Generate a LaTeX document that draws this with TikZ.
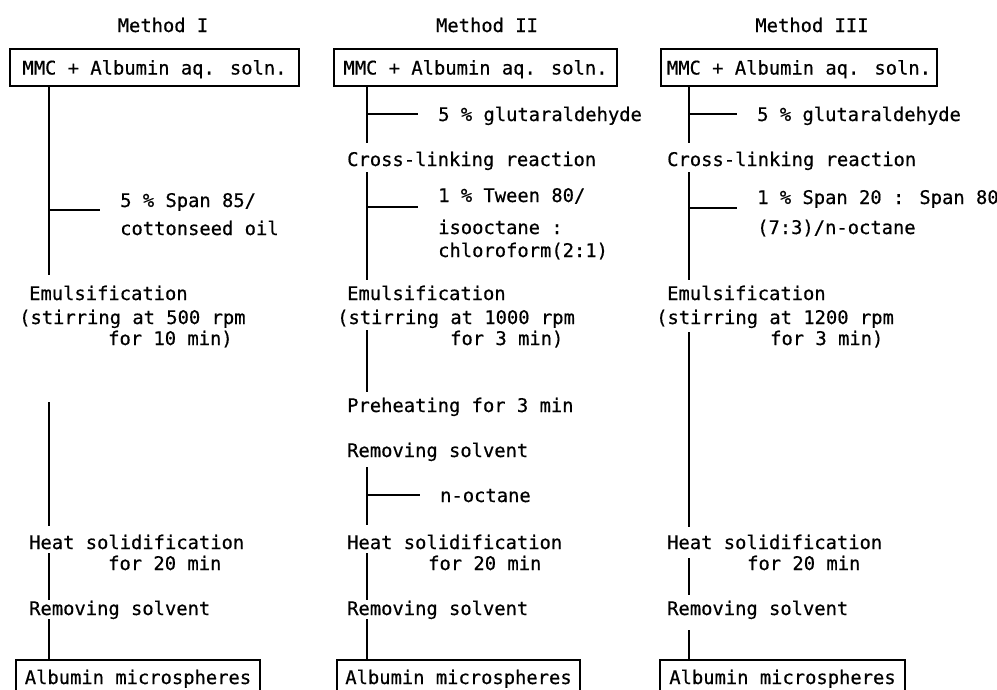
\documentclass[tikz,border=0pt]{standalone}
\usepackage{fontspec}
\setmainfont[FakeBold=0.5]{DejaVu Sans Mono}
\begin{document}
\begin{tikzpicture}[x=1pt,y=-1pt,font=\fontsize{18.8}{23}\selectfont,
    lbl/.style={anchor=base west,inner sep=0,text height=14pt,text depth=4pt},
    head/.style={anchor=base,inner sep=0},
    stepbox/.style={draw,line width=1.2,inner sep=0,text height=14pt,text depth=0pt},
    trunk/.style={line width=1.6},
    feed/.style={line width=1.4,shorten >=20pt}]
      \useasboundingbox (0,0) rectangle (997,689);
      \clip (0,0) rectangle (997,689);

      % Method I
      \node[head] (h1) at (163,32) {Method I};
      \node[stepbox,minimum width=289,minimum height=37] (top1) at (154.5,67.5) {MMC + Albumin aq. soln.};
      \node[lbl] (sp1a) at (120,207) {5 \% Span 85/};
      \node[lbl] (sp1b) at (120,235) {cottonseed oil};
      \node[lbl] (em1) at (29,300) {Emulsification};
      \node[lbl] (st1) at (19,324) {(stirring at 500 rpm};
      \node[lbl] (fo1) at (108,345) {for 10 min)};
      \node[lbl] (he1) at (29,549) {Heat solidification};
      \node[lbl] (ft1) at (108,570) {for 20 min};
      \node[lbl] (re1) at (29,615) {Removing solvent};
      \node[stepbox,minimum width=244,minimum height=34] (bot1) at (138,677) {Albumin microspheres};

      \coordinate (t1) at (49,0);
      \coordinate (j1) at (49,210);
      \draw[trunk,shorten >=11pt] (top1.south -| t1) -- (em1.north -| t1);
      \draw[feed] (j1) -- (j1 -| sp1a.west);
      \draw[trunk,shorten <=53pt,shorten >=9pt] (fo1.south -| t1) -- (he1.north -| t1);
      \draw[trunk,shorten >=1pt] (he1.south -| t1) -- (re1.north -| t1);
      \draw[trunk] (re1.south -| t1) -- (bot1.north -| t1);

      % Method II
      \node[head] (h2) at (487,32) {Method II};
      \node[stepbox,minimum width=283,minimum height=37] (top2) at (475.5,67.5) {MMC + Albumin aq. soln.};
      \node[lbl] (gl2) at (438,121) {5 \% glutaraldehyde};
      \node[lbl] (cr2) at (347,166) {Cross-linking reaction};
      \node[lbl] (tw2a) at (438,202) {1 \% Tween 80/};
      \node[lbl] (tw2b) at (438,234) {isooctane :};
      \node[lbl] (tw2c) at (438,257) {chloroform(2:1)};
      \node[lbl] (em2) at (347,300) {Emulsification};
      \node[lbl] (st2) at (337,324) {(stirring at 1000 rpm};
      \node[lbl] (fo2) at (450,345) {for 3 min)};
      \node[lbl] (pr2) at (347,412) {Preheating for 3 min};
      \node[lbl] (rs2) at (347,457) {Removing solvent};
      \node[lbl] (oc2) at (440,502) {n-octane};
      \node[lbl] (he2) at (347,549) {Heat solidification};
      \node[lbl] (ft2) at (428,570) {for 20 min};
      \node[lbl] (re2) at (347,615) {Removing solvent};
      \node[stepbox,minimum width=243,minimum height=34] (bot2) at (458.5,677) {Albumin microspheres};

      \coordinate (t2) at (367,0);
      \coordinate (j2a) at (367,114);
      \coordinate (j2b) at (367,207);
      \coordinate (j2c) at (367,495);
      \draw[trunk,shorten >=9pt] (top2.south -| t2) -- (cr2.north -| t2);
      \draw[feed] (j2a) -- (j2a -| gl2.west);
      \draw[trunk,shorten <=2pt,shorten >=6pt] (cr2.south -| t2) -- (em2.north -| t2);
      \draw[feed] (j2b) -- (j2b -| tw2a.west);
      \draw[trunk,shorten <=2pt,shorten >=6pt] (st2.south -| t2) -- (pr2.north -| t2);
      \draw[trunk,shorten <=6pt,shorten >=10pt] (rs2.south -| t2) -- (he2.north -| t2);
      \draw[feed] (j2c) -- (j2c -| oc2.west);
      \draw[trunk,shorten >=1pt] (he2.south -| t2) -- (re2.north -| t2);
      \draw[trunk] (re2.south -| t2) -- (bot2.north -| t2);

      % Method III
      \node[head] (h3) at (812,32) {Method III};
      \node[stepbox,minimum width=276,minimum height=37] (top3) at (799,67.5) {MMC + Albumin aq. soln.};
      \node[lbl] (gl3) at (757,121) {5 \% glutaraldehyde};
      \node[lbl] (cr3) at (667,166) {Cross-linking reaction};
      \node[lbl] (sp3a) at (757,204) {1 \% Span 20 : Span 80};
      \node[lbl] (sp3b) at (757,234) {(7:3)/n-octane};
      \node[lbl] (em3) at (667,300) {Emulsification};
      \node[lbl] (st3) at (656,324) {(stirring at 1200 rpm};
      \node[lbl] (fo3) at (770,345) {for 3 min)};
      \node[lbl] (he3) at (667,549) {Heat solidification};
      \node[lbl] (ft3) at (747,570) {for 20 min};
      \node[lbl] (re3) at (667,615) {Removing solvent};
      \node[stepbox,minimum width=245,minimum height=34] (bot3) at (782.5,677) {Albumin microspheres};

      \coordinate (t3) at (689,0);
      \coordinate (j3a) at (689,114);
      \coordinate (j3b) at (689,208);
      \draw[trunk,shorten >=9pt] (top3.south -| t3) -- (cr3.north -| t3);
      \draw[feed] (j3a) -- (j3a -| gl3.west);
      \draw[trunk,shorten <=2pt,shorten >=6pt] (cr3.south -| t3) -- (em3.north -| t3);
      \draw[feed] (j3b) -- (j3b -| sp3a.west);
      \draw[trunk,shorten <=4pt,shorten >=8pt] (st3.south -| t3) -- (he3.north -| t3);
      \draw[trunk,shorten <=5pt,shorten >=6pt] (he3.south -| t3) -- (re3.north -| t3);
      \draw[trunk,shorten <=11pt] (re3.south -| t3) -- (bot3.north -| t3);
\end{tikzpicture}
\end{document}
